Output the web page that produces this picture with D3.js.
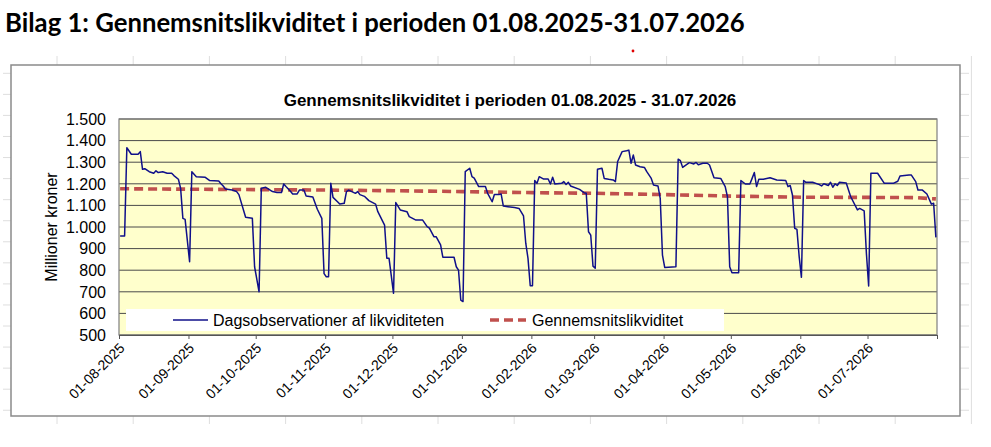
<!DOCTYPE html>
<html>
<head>
<meta charset="utf-8">
<script src="https://cdn.jsdelivr.net/npm/d3@7"></script>
<style>
  html, body { margin: 0; padding: 0; background: #fff; }
  svg { display: block; }
</style>
</head>
<body>
<svg id="chart" width="991" height="447"></svg>
<script>
// ---------- DATA ----------
const pageTitle = "Bilag 1: Gennemsnitslikviditet i perioden 01.08.2025-31.07.2026";
const chartTitle = "Gennemsnitslikviditet i perioden 01.08.2025 - 31.07.2026";
const yAxisTitle = "Millioner kroner";
const seriesNames = ["Dagsobservationer af likviditeten", "Gennemsnitslikviditet"];

const obsDates = [
  "2025-08-01","2025-08-03","2025-08-04","2025-08-06","2025-08-09","2025-08-10","2025-08-11","2025-08-12",
  "2025-08-14","2025-08-16","2025-08-17","2025-08-18","2025-08-20","2025-08-22","2025-08-24","2025-08-25",
  "2025-08-27","2025-08-28","2025-08-29","2025-08-30",
  "2025-09-01","2025-09-02","2025-09-04","2025-09-08","2025-09-10","2025-09-14","2025-09-15","2025-09-16",
  "2025-09-17","2025-09-20","2025-09-22","2025-09-23","2025-09-26","2025-09-29","2025-09-30",
  "2025-10-02","2025-10-03","2025-10-05","2025-10-08","2025-10-10","2025-10-12","2025-10-13","2025-10-14",
  "2025-10-16","2025-10-17","2025-10-19","2025-10-20","2025-10-22","2025-10-23","2025-10-26","2025-10-28",
  "2025-10-30","2025-10-31",
  "2025-11-01","2025-11-02","2025-11-03","2025-11-04","2025-11-06","2025-11-07","2025-11-09","2025-11-10",
  "2025-11-11","2025-11-14","2025-11-15","2025-11-16","2025-11-18","2025-11-20","2025-11-23","2025-11-24",
  "2025-11-27","2025-11-28","2025-11-29",
  "2025-12-01","2025-12-02","2025-12-04","2025-12-07","2025-12-08","2025-12-11","2025-12-14","2025-12-16",
  "2025-12-17","2025-12-19","2025-12-20","2025-12-22","2025-12-23","2025-12-28","2025-12-29","2025-12-30",
  "2025-12-31",
  "2026-01-01","2026-01-02","2026-01-04","2026-01-05","2026-01-06","2026-01-08","2026-01-11","2026-01-12",
  "2026-01-14","2026-01-15","2026-01-17","2026-01-18","2026-01-19","2026-01-21","2026-01-24","2026-01-26",
  "2026-01-28","2026-01-29","2026-01-30","2026-01-31",
  "2026-02-01","2026-02-02","2026-02-03","2026-02-04","2026-02-06","2026-02-08","2026-02-09","2026-02-10",
  "2026-02-11","2026-02-14","2026-02-15","2026-02-16","2026-02-17","2026-02-18","2026-02-22","2026-02-24",
  "2026-02-25","2026-02-26","2026-02-27","2026-02-28",
  "2026-03-01","2026-03-02","2026-03-04","2026-03-05","2026-03-07","2026-03-09","2026-03-10","2026-03-11",
  "2026-03-13","2026-03-15","2026-03-16","2026-03-17","2026-03-18","2026-03-19","2026-03-21","2026-03-23",
  "2026-03-24","2026-03-26","2026-03-27","2026-03-29","2026-03-30","2026-03-31",
  "2026-04-01","2026-04-06","2026-04-07","2026-04-08","2026-04-09","2026-04-12","2026-04-14","2026-04-15",
  "2026-04-16","2026-04-18","2026-04-20","2026-04-21","2026-04-23","2026-04-26","2026-04-28","2026-04-29",
  "2026-04-30",
  "2026-05-01","2026-05-04","2026-05-05","2026-05-07","2026-05-09","2026-05-10","2026-05-11","2026-05-12",
  "2026-05-13","2026-05-15","2026-05-18","2026-05-21","2026-05-25","2026-05-26","2026-05-27","2026-05-28",
  "2026-05-29","2026-05-30","2026-05-31",
  "2026-06-01","2026-06-02","2026-06-03","2026-06-06","2026-06-09","2026-06-10","2026-06-11","2026-06-13",
  "2026-06-14","2026-06-15","2026-06-16","2026-06-17","2026-06-18","2026-06-21","2026-06-23","2026-06-26",
  "2026-06-27","2026-06-29","2026-06-30",
  "2026-07-01","2026-07-02","2026-07-05","2026-07-08","2026-07-12","2026-07-14","2026-07-15","2026-07-19",
  "2026-07-20","2026-07-22","2026-07-23","2026-07-25","2026-07-27","2026-07-29","2026-07-30","2026-07-31"
];
const obsValues = [
  958,958,1367,1337,1337,1349,1267,1270,
  1256,1249,1260,1252,1256,1249,1249,1238,
  1221,1179,1040,1035,
  839,1256,1233,1230,1215,1213,1200,1190,
  1176,1171,1164,1150,1045,1040,816,
  700,1179,1184,1164,1160,1160,1199,1187,
  1165,1153,1153,1171,1171,1144,1139,1082,
  1040,784,
  770,770,1202,1137,1117,1106,1110,1164,
  1171,1156,1164,1150,1142,1122,1106,1071,
  1009,855,855,
  693,1113,1079,1071,1048,1032,1032,1002,
  995,955,955,917,860,860,816,800,
  662,
  655,1256,1272,1233,1226,1187,1187,1156,
  1117,1150,1150,1153,1097,1094,1090,1086,
  1051,925,855,728,
  728,1215,1202,1233,1222,1222,1199,1230,
  1199,1202,1210,1197,1207,1190,1174,1159,
  1156,978,962,819,
  809,1267,1272,1225,1221,1218,1210,1303,
  1349,1353,1356,1295,1333,1287,1279,1275,
  1256,1225,1194,1190,1133,870,
  813,816,1314,1307,1276,1298,1292,1299,
  1288,1295,1295,1287,1228,1225,1187,1140,
  816,
  788,788,1215,1199,1199,1225,1252,1187,
  1221,1221,1228,1218,1215,1187,1192,1148,
  994,989,863,
  767,1215,1207,1207,1196,1190,1200,1192,
  1207,1184,1200,1192,1207,1204,1140,1079,
  1086,1075,878,
  727,1249,1249,1202,1202,1212,1236,1241,
  1241,1210,1171,1171,1153,1106,1110,952
];

const avgDates = ["2025-08-01","2025-09-01","2025-10-01","2025-11-01","2025-12-01","2026-01-01","2026-02-01",
  "2026-03-01","2026-04-01","2026-05-01","2026-06-01","2026-07-01","2026-07-22","2026-07-31"];
const avgValues = [1177,1175,1173,1171,1168,1164,1159,1156,1150,1143,1138,1137,1136,1130];

const yTicks = [500,600,700,800,900,1000,1100,1200,1300,1400,1500];
const monthTicks = ["2025-08-01","2025-09-01","2025-10-01","2025-11-01","2025-12-01","2026-01-01","2026-02-01",
  "2026-03-01","2026-04-01","2026-05-01","2026-06-01","2026-07-01","2026-08-01"];

// ---------- DRAW ----------
const svg = d3.select("#chart");
const W = 991, H = 447;
const parse = d3.utcParse("%Y-%m-%d");
const fmtDate = d3.utcFormat("%d-%m-%Y");
const loc = d3.formatLocale({decimal: ",", thousands: ".", grouping: [3], currency: ["", " kr."]});
const fmtY = loc.format(",d");

svg.append("rect").attr("width", W).attr("height", H).attr("fill", "#fff");

// faint spreadsheet gridlines around the chart object
const gridG = svg.append("g").attr("stroke", "#dedede").attr("stroke-width", 1);
const colX = d3.range(0, 13).map(i => 57 + i * 76.2);
const rowY = d3.range(0, 17).map(i => 73.3 + i * 21.06);
colX.forEach(x => gridG.append("line").attr("x1", x).attr("x2", x).attr("y1", 56).attr("y2", 424));
rowY.forEach(y => gridG.append("line").attr("x1", 3).attr("x2", 969).attr("y1", y).attr("y2", y));

// chart frame
svg.append("rect").attr("x", 11).attr("y", 65).attr("width", 949).attr("height", 351)
  .attr("fill", "#fff").attr("stroke", "#8a8a8a").attr("stroke-width", 1.5);

// page heading
svg.append("text").attr("x", 5).attr("y", 32)
  .attr("font-family", "Lato, 'Open Sans', sans-serif").attr("font-weight", "bold")
  .attr("font-size", 25).attr("fill", "#000").text(pageTitle)
  .each(function() {
    const len = this.getComputedTextLength();
    d3.select(this).attr("font-size", 25 * 740 / len);
  });

// red artefact dot
svg.append("circle").attr("cx", 633).attr("cy", 51).attr("r", 1.4).attr("fill", "#e00000");

const L = 119, R = 937, T = 119, B = 335;
const x = d3.scaleUtc().domain([parse("2025-08-01"), parse("2026-08-01")]).range([L, R]);
const y = d3.scaleLinear().domain([500, 1500]).range([B, T]);
const halfDay = (x(parse("2025-08-02")) - x(parse("2025-08-01"))) / 2;

// plot area
svg.append("rect").attr("x", L).attr("y", T).attr("width", R - L).attr("height", B - T)
  .attr("fill", "#ffffcc");

// horizontal gridlines
svg.append("g").selectAll("line").data(yTicks).join("line")
  .attr("x1", L).attr("x2", R).attr("y1", d => y(d)).attr("y2", d => y(d))
  .attr("stroke", "#4a4a4a").attr("stroke-width", 1);

svg.append("rect").attr("x", L).attr("y", T).attr("width", R - L).attr("height", B - T)
  .attr("fill", "none").attr("stroke", "#7f7f7f").attr("stroke-width", 1.2);

// y axis labels
svg.append("g").selectAll("text").data(yTicks).join("text")
  .attr("x", 106).attr("y", d => y(d)).attr("dy", "0.36em")
  .attr("text-anchor", "end").attr("font-family", "Arial, 'Liberation Sans', sans-serif")
  .attr("font-size", 16).attr("fill", "#000").text(d => fmtY(d));

svg.append("text").attr("transform", "translate(57,227) rotate(-90)")
  .attr("text-anchor", "middle").attr("font-family", "Arial, 'Liberation Sans', sans-serif")
  .attr("font-size", 16).attr("fill", "#000").text(yAxisTitle);

// x axis
const xAxis = svg.append("g").attr("transform", `translate(0,${B})`)
  .call(d3.axisBottom(x).tickValues(monthTicks.map(parse)).tickSize(4)
    .tickFormat((d, i) => i === monthTicks.length - 1 ? "" : fmtDate(d)));
xAxis.select(".domain").attr("stroke", "#555");
xAxis.selectAll(".tick line").attr("stroke", "#555");
xAxis.selectAll(".tick text")
  .attr("font-family", "Arial, 'Liberation Sans', sans-serif").attr("font-size", 14).attr("fill", "#000")
  .attr("text-anchor", "end").attr("dy", "0").attr("y", 0)
  .attr("transform", "translate(6,14) rotate(-45)");

// chart title
svg.append("text").attr("x", 510).attr("y", 106).attr("text-anchor", "middle")
  .attr("font-family", "Arial, 'Liberation Sans', sans-serif").attr("font-weight", "bold")
  .attr("font-size", 17).attr("fill", "#000").text(chartTitle);

// series
const obs = obsDates.map((d, i) => ({date: parse(d), value: obsValues[i]}));
const avg = avgDates.map((d, i) => ({date: parse(d), value: avgValues[i]}));
const line = d3.line().x(d => x(d.date) + halfDay).y(d => y(d.value));

svg.append("path").datum(avg).attr("d", line).attr("fill", "none")
  .attr("stroke", "#c0504d").attr("stroke-width", 3.6).attr("stroke-dasharray", "9,5");
svg.append("path").datum(obs).attr("d", line).attr("fill", "none")
  .attr("stroke", "#10108a").attr("stroke-width", 1.5).attr("stroke-linejoin", "round");

// legend
const lg = svg.append("g");
lg.append("rect").attr("x", 126).attr("y", 309).attr("width", 598).attr("height", 22).attr("fill", "#fff");
lg.append("line").attr("x1", 173).attr("x2", 208).attr("y1", 320).attr("y2", 320)
  .attr("stroke", "#10108a").attr("stroke-width", 1.5);
lg.append("text").attr("x", 213).attr("y", 320).attr("dy", "0.36em")
  .attr("font-family", "Arial, 'Liberation Sans', sans-serif").attr("font-size", 16).text(seriesNames[0]);
lg.append("line").attr("x1", 490).attr("x2", 526).attr("y1", 320).attr("y2", 320)
  .attr("stroke", "#c0504d").attr("stroke-width", 3.6).attr("stroke-dasharray", "9,5");
lg.append("text").attr("x", 532).attr("y", 320).attr("dy", "0.36em")
  .attr("font-family", "Arial, 'Liberation Sans', sans-serif").attr("font-size", 16).text(seriesNames[1]);
</script>
</body>
</html>
